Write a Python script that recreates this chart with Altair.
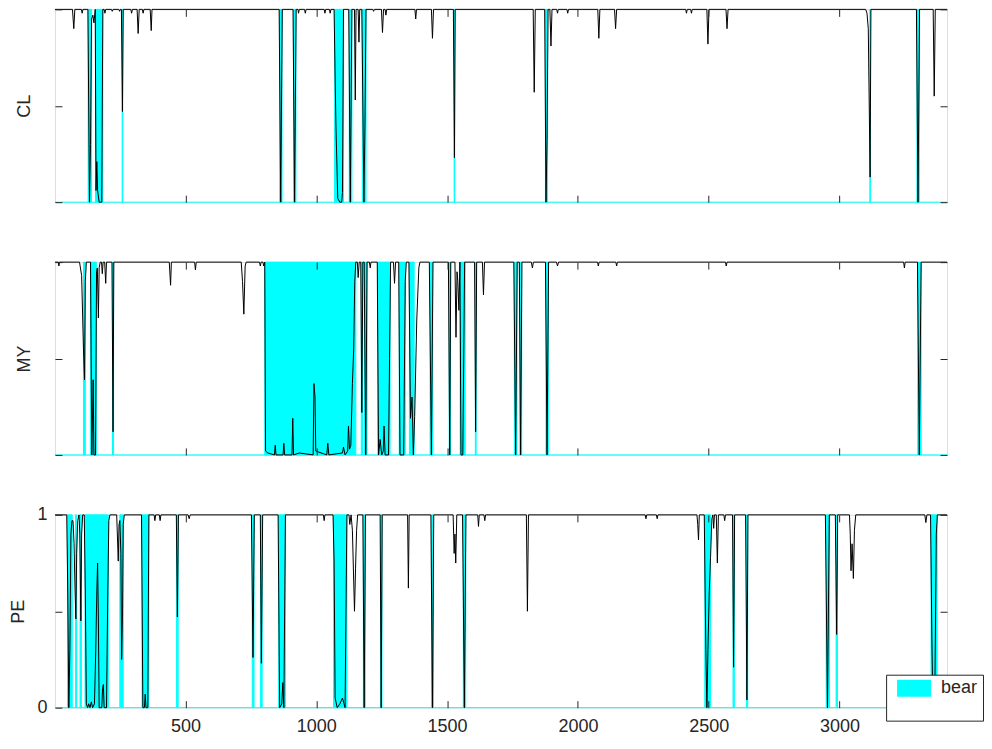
import altair as alt
import pandas as pd

# ---------------- data ----------------
X_MIN, X_MAX = 1, 3411
X_TICKS = [500, 1000, 1500, 2000, 2500, 3000]
Y_TICKS = [0, 0.5, 1]
Y_LABELS = [0, 1]
PANEL_NAMES = ["CL", "MY", "PE"]
LEGEND_LABEL = "bear"

# bear regimes (start, end) per market
cl_bear_start = [128, 156, 258, 860, 913, 1070, 1126, 1176, 1527, 1876, 3116, 3296]
cl_bear_end = [141, 184, 260, 869, 922, 1104, 1136, 1190, 1529, 1884, 3118, 3305]

my_bear_start = [110, 137, 221, 803, 1172, 1184, 1235, 1317, 1356, 1435, 1508, 1550, 1608, 1757, 1778, 1878, 3299]
my_bear_end = [117, 159, 225, 1151, 1177, 1194, 1282, 1340, 1374, 1445, 1513, 1569, 1611, 1767, 1785, 1887, 3312]

pe_bear_start = [49, 80, 97, 116, 249, 334, 466, 755, 787, 856, 1066, 1180, 1246, 1441, 1562, 2485, 2593, 2644, 2949, 2987, 3350]
pe_bear_end = [67, 84, 102, 205, 262, 360, 472, 762, 793, 882, 1117, 1187, 1251, 1448, 1571, 2507, 2598, 2649, 2962, 2992, 3373]

# probability line (x, p) per market
cl_line = [(1, 1), (68, 1), (73, 0.90), (77, 1), (102, 1), (105, 0.98), (108, 1), (127, 1), (133, 0.0),
           (137, 0.30), (141, 0.95), (146, 0.97), (150, 0.93), (155, 1.0), (158, 0.06), (161, 0.21),
           (164, 0.06), (170, 0.0), (180, 0.0), (184, 1.0), (189, 1), (192, 0.98), (195, 1), (217, 1),
           (220, 0.99), (223, 1), (245, 1), (248, 0.99), (251, 1), (255, 1), (259, 0.47), (262, 1),
           (291, 1), (294, 0.98), (297, 1), (315, 1), (319, 0.875), (323, 1), (335, 1), (338, 0.98),
           (341, 1), (365, 1), (369, 0.89), (372, 1), (858, 1), (864, 0.0), (870, 1), (911, 1),
           (917, 0.0), (923, 1), (930, 1), (932, 0.98), (935, 1), (955, 1), (958, 0.98), (961, 1),
           (1030, 1), (1033, 0.98), (1036, 1), (1050, 1), (1053, 0.98), (1056, 1), (1068, 1),
           (1075, 0.4), (1082, 0.02), (1090, 0.0), (1097, 0.0), (1100, 0.05), (1104, 1), (1124, 1),
           (1130, 0.0), (1136, 1), (1146, 1), (1149, 0.53), (1152, 1), (1160, 1), (1163, 0.83),
           (1166, 1), (1174, 1), (1182, 0.0), (1186, 0.4), (1190, 1), (1216, 1), (1219, 0.99),
           (1222, 1), (1249, 1), (1253, 0.88), (1257, 1), (1263, 1), (1266, 0.97), (1269, 1),
           (1377, 1), (1380, 0.95), (1383, 1), (1440, 1), (1444, 0.85), (1448, 1), (1524, 1),
           (1528, 0.23), (1531, 1), (1829, 1), (1833, 0.57), (1837, 1), (1873, 1), (1878, 0.0),
           (1882, 0.32), (1886, 1), (1893, 1), (1897, 0.81), (1901, 1), (1919, 1), (1922, 0.98),
           (1925, 1), (1958, 1), (1961, 0.98), (1964, 1), (2076, 1), (2080, 0.85), (2084, 1),
           (2140, 1), (2144, 0.90), (2148, 1), (2412, 1), (2415, 0.98), (2418, 1), (2431, 1),
           (2434, 0.98), (2437, 1), (2493, 1), (2497, 0.82), (2501, 1), (2566, 1), (2570, 0.90),
           (2574, 1), (3100, 1), (3105, 0.98), (3110, 0.9), (3117, 0.13), (3120, 1), (3294, 1),
           (3300, 0.0), (3306, 1), (3358, 1), (3362, 0.55), (3366, 1), (3411, 1)]

my_line = [(1, 1), (14, 1), (16, 0.98), (18, 1), (95, 1), (103, 0.93), (110, 0.55), (114, 0.39),
           (117, 0.9), (121, 1), (137, 1), (142, 0.0), (147, 0.39), (150, 0.0), (156, 0.0),
           (160, 0.95), (163, 0.97), (167, 0.71), (170, 0.97), (174, 1), (179, 1), (182, 0.94),
           (185, 1), (191, 1), (195, 0.89), (198, 1), (219, 1), (223, 0.12), (226, 1), (438, 1),
           (443, 0.88), (446, 1), (535, 1), (538, 0.96), (541, 1), (713, 1), (718, 0.9), (723, 0.73),
           (728, 0.98), (732, 1), (783, 1), (786, 0.98), (789, 1), (796, 1), (799, 0.98), (803, 1),
           (806, 0.02), (815, 0.01), (840, 0.0), (843, 0.05), (846, 0.0), (873, 0.0), (876, 0.06),
           (879, 0.0), (907, 0.0), (910, 0.19), (913, 0.0), (935, 0.01), (988, 0.0), (991, 0.37),
           (995, 0.3), (998, 0.02), (1040, 0.0), (1044, 0.06), (1048, 0.0), (1100, 0.01),
           (1104, 0.04), (1110, 0.0), (1120, 0.02), (1123, 0.15), (1127, 0.03), (1132, 0.05),
           (1138, 0.37), (1143, 0.55), (1147, 0.9), (1151, 1), (1157, 1), (1160, 0.92), (1164, 1),
           (1170, 1), (1174, 0.22), (1178, 1), (1183, 1), (1189, 0.0), (1194, 1), (1203, 1),
           (1206, 0.97), (1209, 1), (1233, 1), (1238, 0.0), (1244, 0.08), (1250, 0.0), (1256, 0.02),
           (1259, 0.15), (1263, 0.0), (1276, 0.0), (1280, 0.5), (1284, 1), (1295, 1), (1299, 0.89),
           (1303, 1), (1315, 1), (1320, 0.0), (1334, 0.0), (1340, 0.9), (1344, 1), (1354, 1),
           (1360, 0.19), (1366, 0.3), (1371, 0.0), (1376, 0.2), (1384, 0.7), (1392, 0.97), (1396, 1),
           (1432, 1), (1440, 0.0), (1446, 1), (1505, 1), (1510, 0.0), (1514, 1), (1530, 1),
           (1534, 0.61), (1538, 0.95), (1541, 0.9), (1545, 0.75), (1549, 1), (1553, 0.0), (1560, 0.0),
           (1567, 1), (1605, 1), (1609, 0.12), (1613, 1), (1635, 1), (1639, 0.83), (1643, 1),
           (1755, 1), (1762, 0.0), (1768, 1), (1776, 1), (1781, 0.0), (1786, 1), (1822, 1),
           (1826, 0.97), (1830, 1), (1876, 1), (1882, 0.0), (1888, 1), (1918, 1), (1922, 0.98),
           (1926, 1), (2075, 1), (2078, 0.98), (2081, 1), (2145, 1), (2148, 0.98), (2151, 1),
           (2564, 1), (2567, 0.98), (2570, 1), (3245, 1), (3248, 0.97), (3251, 1), (3298, 1),
           (3305, 0.0), (3312, 1), (3411, 1)]

pe_line = [(1, 1), (46, 1), (50, 0.6), (54, 0.0), (58, 0.3), (62, 0.9), (66, 0.97), (70, 0.97),
           (74, 0.85), (78, 0.6), (81, 0.46), (84, 0.8), (88, 0.97), (93, 1), (96, 0.9), (100, 0.45),
           (103, 0.9), (107, 1), (113, 1), (117, 0.6), (121, 0.02), (126, 0.0), (130, 0.02), (135, 0.0),
           (140, 0.03), (145, 0.0), (152, 0.02), (157, 0.3), (161, 0.6), (164, 0.75), (167, 0.45),
           (170, 0.0), (180, 0.0), (183, 0.1), (186, 0.12), (189, 0.0), (198, 0.0), (203, 0.6),
           (207, 0.97), (211, 1), (237, 1), (240, 0.88), (243, 0.76), (246, 0.95), (249, 0.97),
           (253, 0.8), (256, 0.25), (259, 0.45), (262, 0.95), (266, 1), (332, 1), (337, 0.0),
           (343, 0.0), (346, 0.07), (349, 0.0), (356, 0.0), (360, 1), (380, 1), (383, 0.97), (386, 1),
           (400, 1), (403, 0.97), (406, 1), (465, 1), (469, 0.47), (473, 1), (510, 1), (514, 0.98),
           (518, 1), (752, 1), (758, 0.26), (763, 1), (786, 1), (790, 0.23), (795, 1), (854, 1),
           (860, 0.0), (868, 0.02), (872, 0.13), (876, 0.0), (882, 1), (1027, 1), (1030, 0.97),
           (1033, 1), (1064, 1), (1068, 0.76), (1072, 0.05), (1080, 0.0), (1090, 0.02), (1100, 0.05),
           (1110, 0.0), (1117, 1), (1125, 1), (1128, 0.95), (1133, 1), (1138, 0.92), (1146, 0.5),
           (1150, 0.72), (1154, 0.92), (1158, 1), (1178, 1), (1183, 0.0), (1188, 1), (1244, 1),
           (1248, 0.0), (1252, 1), (1349, 1), (1352, 0.62), (1355, 1), (1438, 1), (1444, 0.0),
           (1449, 1), (1523, 1), (1527, 0.80), (1530, 0.9), (1533, 0.75), (1537, 1), (1559, 1),
           (1566, 0.0), (1572, 1), (1617, 1), (1620, 0.94), (1623, 1), (1641, 1), (1644, 0.97),
           (1647, 1), (1803, 1), (1807, 0.50), (1811, 1), (2257, 1), (2260, 0.98), (2263, 1),
           (2300, 1), (2303, 0.98), (2306, 1), (2455, 1), (2458, 0.95), (2461, 0.87), (2464, 1),
           (2483, 1), (2489, 0.3), (2493, 0.0), (2497, 0.3), (2502, 0.6), (2507, 0.78), (2512, 0.98),
           (2516, 1), (2519, 0.93), (2522, 1), (2529, 1), (2533, 0.75), (2537, 1), (2558, 1),
           (2561, 0.97), (2564, 1), (2591, 1), (2595, 0.21), (2599, 1), (2641, 1), (2646, 0.04),
           (2650, 1), (2946, 1), (2954, 0.0), (2961, 1), (2984, 1), (2989, 0.38), (2993, 1),
           (3038, 1), (3041, 0.9), (3044, 0.71), (3048, 0.85), (3053, 0.67), (3057, 0.92), (3062, 1),
           (3326, 1), (3330, 0.96), (3334, 1), (3348, 1), (3353, 0.36), (3357, 0.0), (3364, 0.0),
           (3370, 0.9), (3374, 1), (3411, 1)]

# ---------------- styling ----------------
W, H = 893, 193
INK = "#262626"
CYAN = "#00FFFF"
FONT = "Liberation Sans"


def bear_frame(starts, ends):
    return pd.DataFrame({"start": starts, "end": ends, "lo": [0] * len(starts),
                         "hi": [1] * len(starts), "state": [LEGEND_LABEL] * len(starts)})


def line_frame(pairs):
    return pd.DataFrame({"x": [p[0] for p in pairs], "y": [p[1] for p in pairs],
                         "i": list(range(len(pairs)))})


def tick_axis(orient, offset, values):
    return alt.Axis(orient=orient, offset=offset, values=values, labels=False, domain=False,
                    ticks=True, tickSize=7, tickColor=INK, tickWidth=1, grid=False, title=None,
                    zindex=1, minExtent=0, maxExtent=0)


def panel(name, bs, be, pairs, last):
    xsc = alt.Scale(domain=[X_MIN, X_MAX], nice=False, zero=False)
    ysc = alt.Scale(domain=[0, 1], nice=False, zero=False)
    title_kw = dict(title=name, titleFontSize=18, titleFontWeight="normal", titleColor=INK,
                    titleFont=FONT, titleX=(-31 if last else -25), titleY=H / 2, titleAngle=270,
                    titleAlign="center", titleBaseline="alphabetic")
    if last:
        x_lab = alt.Axis(orient="bottom", values=X_TICKS, ticks=False, domain=False, grid=False,
                         title=None, labelFontSize=18, labelPadding=10, labelFlush=False,
                         labelOverlap=False, format="d", labelColor=INK, labelFont=FONT)
        y_lab = alt.Axis(orient="left", values=Y_LABELS, ticks=False, domain=False, grid=False,
                         labelFontSize=18, labelPadding=8, labelFlush=False, labelOverlap=False,
                         format="d", labelColor=INK, labelFont=FONT, **title_kw)
    else:
        x_lab = None
        y_lab = alt.Axis(orient="left", values=Y_LABELS, ticks=False, domain=False, grid=False,
                         labels=False, **title_kw)

    enc = dict(x=alt.X("start:Q", scale=xsc, axis=x_lab), x2="end:Q",
               y=alt.Y("lo:Q", scale=ysc, axis=y_lab), y2="hi:Q")
    bear = bear_frame(bs, be)
    if last:
        legend = alt.Legend(orient="none", legendX=832, legendY=666, title=" ",
                            titleOrient="bottom", titleFontSize=13, titlePadding=6,
                            fillColor="white", strokeColor=INK, padding=5,
                            symbolType="M-1,-1H1V0H-1Z", symbolSize=1156, symbolStrokeWidth=0,
                            symbolOpacity=1, symbolOffset=6, labelOffset=10, labelFontSize=18,
                            labelFont=FONT, labelColor=INK, labelBaseline="bottom")
        area = alt.Chart(bear).mark_rect(stroke=CYAN, strokeWidth=1, opacity=1).encode(
            color=alt.Color("state:N", scale=alt.Scale(domain=[LEGEND_LABEL], range=[CYAN]),
                            legend=legend), **enc)
    else:
        area = alt.Chart(bear).mark_rect(fill=CYAN, stroke=CYAN, strokeWidth=1, opacity=1).encode(**enc)

    base = pd.DataFrame({"x": [X_MIN], "x2": [X_MAX], "y": [0]})
    rule = alt.Chart(base).mark_rule(color=CYAN, strokeWidth=1).encode(
        x=alt.X("x:Q", scale=xsc, axis=tick_axis("bottom", -H, X_TICKS)),
        x2="x2:Q",
        y=alt.Y("y:Q", scale=ysc, axis=tick_axis("left", -W, Y_TICKS)))

    line = alt.Chart(line_frame(pairs)).mark_line(color="black", strokeWidth=1).encode(
        x=alt.X("x:Q", scale=xsc, axis=tick_axis("top", -H, X_TICKS)),
        y=alt.Y("y:Q", scale=ysc, axis=tick_axis("right", -W, Y_TICKS)),
        order=alt.Order("i:Q"))

    return alt.layer(area, rule, line).resolve_axis(x="independent", y="independent").properties(
        width=W, height=H)


chart = alt.vconcat(
    panel(PANEL_NAMES[0], cl_bear_start, cl_bear_end, cl_line, False),
    panel(PANEL_NAMES[1], my_bear_start, my_bear_end, my_line, False),
    panel(PANEL_NAMES[2], pe_bear_start, pe_bear_end, pe_line, True),
    spacing=60, bounds="flush",
).properties(
    padding={"left": 1, "top": -2, "right": 0, "bottom": 0},
    background="white",
).configure_view(stroke=INK, strokeWidth=1).configure(font=FONT)

chart.save("out.html", embed_options={"renderer": "svg", "actions": False})
